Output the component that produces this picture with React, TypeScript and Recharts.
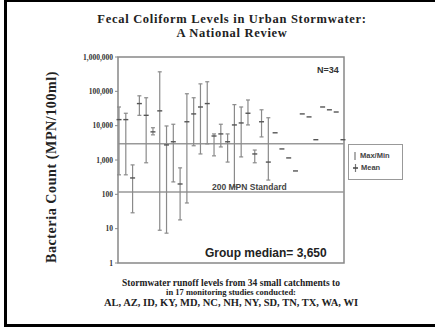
import {
  ComposedChart,
  ErrorBar,
  ReferenceArea,
  ReferenceLine,
  Scatter,
  XAxis,
  YAxis,
} from "recharts";

// 34 catchments: the first 23 have max/min ranges, the rest only a mean
const rangeMax = [
  35000, 23000, 720, 74000, 65000, 8700, 370000, 9800, 11000, 590, 85000, 65000,
  165000, 190000, 5750, 11000, 5750, 41000, 35000, 56000, 1950, 29000, 17000,
];
const rangeMin = [
  370, 370, 29, 20000, 830, 5400, 9, 7.4, 230, 18, 56, 2600,
  1500, 2950, 1320, 2400, 870, 165, 1230, 10500, 830, 4700, 260,
];
const rangeMean = [
  15000, 15000, 300, 44000, 20000, 6600, 27000, 2750, 3400, 200, 13000, 22000,
  35000, 44000, 5000, 5750, 3400, 10500, 12000, 23000, 1500, 13000, 870,
];
const meanOnly = [6200, 2100, 1150, 480, 22000, 18000, 3900, 35000, 29000, 25000, 3900];

const yTicks = [1, 10, 100, 1000, 10000, 100000, 1000000];
const medianLine = 2950;
const standardLine = 117;

const rangeData = rangeMean.map((mean, i) => ({
  x: i + 1,
  mean,
  err: [mean - rangeMin[i], rangeMax[i] - mean],
}));
const meanData = meanOnly.map((mean, i) => ({ x: rangeMean.length + i + 1, mean }));

const serif = "'Liberation Serif', 'Times New Roman', serif";
const sans = "'Liberation Sans', Arial, sans-serif";

function MeanTick(props: any) {
  const { cx, cy } = props;
  return <line x1={cx - 2.5} x2={cx + 2.5} y1={cy} y2={cy} stroke="#555" strokeWidth={1.4} />;
}

export default function App() {
  return (
    <div
      style={{
        position: "absolute",
        left: 0,
        top: 0,
        width: 435,
        height: 331,
        background: "#fff",
        overflow: "hidden",
      }}
    >
      <div
        style={{
          position: "absolute",
          left: 4,
          top: -1,
          width: 440,
          height: 328,
          border: "3px solid #000",
          boxSizing: "border-box",
        }}
      />
      <div
        style={{
          position: "absolute",
          left: 0,
          width: 464,
          top: 12,
          textAlign: "center",
          fontFamily: serif,
          fontWeight: "bold",
          fontSize: 12.5,
          lineHeight: "14px",
          letterSpacing: 0.7,
          color: "#222",
        }}
      >
        <div>Fecal Coliform Levels in Urban Stormwater:</div>
        <div>A National Review</div>
      </div>
      <div
        style={{
          position: "absolute",
          left: 52,
          top: 167,
          transform: "translate(-50%, -50%) rotate(-90deg)",
          whiteSpace: "nowrap",
          fontFamily: serif,
          fontWeight: "bold",
          fontSize: 14,
          letterSpacing: 0.6,
          color: "#222",
        }}
      >
        Bacteria Count (MPN/100ml)
      </div>
      <ComposedChart
        width={435}
        height={331}
        margin={{ top: 57, right: 91, bottom: 68, left: 58 }}
        style={{ position: "absolute", left: 0, top: 0 }}
      >
        <XAxis type="number" dataKey="x" domain={[0.85, 34.15]} hide />
        <YAxis
          type="number"
          scale="log"
          domain={[1, 1000000]}
          ticks={yTicks}
          allowDataOverflow
          width={60}
          axisLine={false}
          tickSize={3}
          tickLine={{ stroke: "#888" }}
          tick={{ fontSize: 7.5, fontFamily: serif, fontWeight: "bold", fill: "#333" }}
          tickFormatter={(v: number) => v.toLocaleString("en-US")}
        />
        <ReferenceArea
          x1={0.85}
          x2={34.15}
          y1={1}
          y2={1000000}
          fill="none"
          stroke="#888"
          strokeWidth={1.5}
          fillOpacity={0}
        />
        <ReferenceLine y={medianLine} stroke="#999" strokeWidth={1.5} />
        <ReferenceLine y={standardLine} stroke="#999" strokeWidth={1.5} />
        <Scatter data={rangeData} dataKey="mean" shape={MeanTick} isAnimationActive={false}>
          <ErrorBar dataKey="err" direction="y" width={2} stroke="#8a8a8a" strokeWidth={1.2} />
        </Scatter>
        <Scatter data={meanData} dataKey="mean" shape={MeanTick} isAnimationActive={false} />
      </ComposedChart>
      <div
        style={{
          position: "absolute",
          left: 317,
          top: 65,
          fontFamily: sans,
          fontWeight: "bold",
          fontSize: 9,
          color: "#333",
        }}
      >
        N=34
      </div>
      <div
        style={{
          position: "absolute",
          left: 212,
          top: 182,
          fontFamily: sans,
          fontWeight: "bold",
          fontSize: 8.5,
          color: "#444",
        }}
      >
        200 MPN Standard
      </div>
      <div
        style={{
          position: "absolute",
          left: 205,
          top: 246,
          fontFamily: sans,
          fontWeight: "bold",
          fontSize: 12,
          color: "#222",
        }}
      >
        Group median= 3,650
      </div>
      <div
        style={{
          position: "absolute",
          left: 348,
          top: 144,
          width: 55,
          height: 36,
          border: "1px solid #999",
          boxSizing: "border-box",
          fontFamily: sans,
          fontSize: 7.5,
          fontWeight: "bold",
          color: "#444",
          padding: "5px 0 0 4px",
          lineHeight: "12px",
        }}
      >
        <div style={{ display: "flex", alignItems: "center", gap: 3 }}>
          <svg width={4} height={8}>
            <line x1={2} x2={2} y1={0} y2={8} stroke="#777" strokeWidth={1.2} />
          </svg>
          Max/Min
        </div>
        <div style={{ display: "flex", alignItems: "center", gap: 3 }}>
          <svg width={5} height={8}>
            <line x1={2.5} x2={2.5} y1={0} y2={8} stroke="#777" strokeWidth={1.2} />
            <line x1={0} x2={5} y1={4} y2={4} stroke="#444" strokeWidth={1.5} />
          </svg>
          Mean
        </div>
      </div>
      <div
        style={{
          position: "absolute",
          left: 0,
          width: 462,
          top: 279,
          textAlign: "center",
          fontFamily: serif,
          fontWeight: "bold",
          color: "#222",
          lineHeight: "9px",
        }}
      >
        <div style={{ fontSize: 9.5 }}>Stormwater runoff levels from 34 small catchments to</div>
        <div style={{ fontSize: 8.5 }}>in 17 monitoring studies conducted:</div>
        <div style={{ fontSize: 10.5, marginTop: 1 }}>
          AL, AZ, ID, KY, MD, NC, NH, NY, SD, TN, TX, WA, WI
        </div>
      </div>
    </div>
  );
}
